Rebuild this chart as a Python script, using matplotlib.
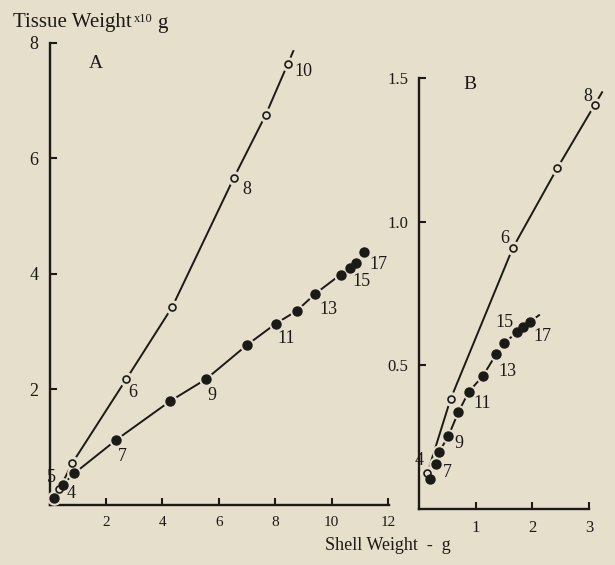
import matplotlib
matplotlib.use("Agg")
import matplotlib.pyplot as plt
import numpy as np

# ---- data ----
# panel A: shell weight (g) vs tissue weight (x10 g)
a_open_x = [0.35, 0.81, 2.72, 4.35, 6.54, 7.67, 8.45]
a_open_y = [0.28, 0.73, 2.18, 3.43, 5.67, 6.76, 7.64]
a_fill_x = [0.14, 0.46, 0.88, 2.37, 4.28, 5.55, 7.00, 8.02, 8.76, 9.43, 10.32, 10.67, 10.88, 11.17]
a_fill_y = [0.12, 0.35, 0.55, 1.13, 1.80, 2.18, 2.77, 3.14, 3.36, 3.66, 3.99, 4.11, 4.19, 4.38]

# panel B
b_open_x = [0.14, 0.55, 1.65, 2.44, 3.10]
b_open_y = [0.125, 0.383, 0.909, 1.188, 1.408]
b_fill_x = [0.19, 0.30, 0.35, 0.51, 0.69, 0.87, 1.12, 1.36, 1.50, 1.73, 1.84, 1.96]
b_fill_y = [0.105, 0.157, 0.199, 0.254, 0.338, 0.408, 0.463, 0.540, 0.578, 0.617, 0.634, 0.652]

# point labels: (series, index, text)
a_labels = [("open", 0, "4"), ("fill", 1, "5"), ("open", 2, "6"), ("fill", 3, "7"),
            ("open", 4, "8"), ("fill", 5, "9"), ("open", 6, "10"), ("fill", 7, "11"),
            ("fill", 9, "13"), ("fill", 11, "15"), ("fill", 13, "17")]
b_labels = [("open", 0, "4"), ("open", 2, "6"), ("open", 4, "8"), ("fill", 1, "7"),
            ("fill", 3, "9"), ("fill", 5, "11"), ("fill", 7, "13"), ("fill", 9, "15"),
            ("fill", 11, "17")]
# label offsets in pixels (x right, y up)
a_offsets = [(12, -5), (-11, 7), (6, -13), (6, -17), (13, -12), (6, -16),
             (16, -8), (11, -15), (13, -16), (11, -14), (14, -12)]
b_offsets = [(-8, 13), (-8, 10), (-7, 8), (11, -9), (11, -7), (14, -12),
             (11, -17), (-13, 9), (12, -15)]

a_xticks = [2, 4, 6, 8, 10, 12]
a_yticks = [2, 4, 6, 8]
b_xticks = [1, 2, 3]
b_yticks = [0.5, 1.0, 1.5]
b_yticklabels = ["0.5", "1.0", "1.5"]

BG = "#e5dfcb"
INK = "#1c1a17"
plt.rcParams["font.family"] = ["Liberation Serif", "DejaVu Serif"]

fig = plt.figure(figsize=(6.15, 5.65), dpi=100, facecolor=BG)
axA = fig.add_axes([0.0807, 0.1062, 0.5523, 0.8177])
axB = fig.add_axes([0.6821, 0.0991, 0.2756, 0.7620])


def extend(xs, ys, frac):
    # short stroke past the last point, following the last segment
    dx = xs[-1] - xs[-2]
    dy = ys[-1] - ys[-2]
    return [xs[-1], xs[-1] + dx * frac], [ys[-1], ys[-1] + dy * frac]


def draw_series(ax, xs, ys, filled, ext):
    ax.plot(xs, ys, color=INK, lw=1.4, zorder=2, clip_on=False)
    ex, ey = extend(xs, ys, ext)
    ax.plot(ex, ey, color=INK, lw=1.4, zorder=2, clip_on=False)
    # halo to break the line around each marker
    ax.plot(xs, ys, ls="none", marker="o", ms=9.5, mfc=BG, mec=BG, zorder=3, clip_on=False)
    if filled:
        ax.plot(xs, ys, ls="none", marker="o", ms=6.5, mfc=INK, mec=INK, zorder=4, clip_on=False)
    else:
        ax.plot(xs, ys, ls="none", marker="o", ms=5, mfc=BG, mec=INK, mew=1.2, zorder=4,
                clip_on=False)


def style_axis(ax, xlim, ylim):
    ax.set_facecolor("none")
    ax.set_xlim(*xlim)
    ax.set_ylim(*ylim)
    for s in ["top", "right"]:
        ax.spines[s].set_visible(False)
    for s in ["left", "bottom"]:
        ax.spines[s].set_linewidth(1.7)
        ax.spines[s].set_color(INK)
    ax.tick_params(direction="in", length=5, width=1.5, color=INK,
                   labelcolor=INK, labelsize=12, pad=8)


style_axis(axA, (0, 12.05), (0, 8))
draw_series(axA, a_open_x, a_open_y, False, 0.25)
draw_series(axA, a_fill_x, a_fill_y, True, 0.0)
axA.set_xticks(a_xticks)
axA.set_yticks(a_yticks)
axA.set_xticklabels([str(t) for t in a_xticks], fontsize=11)
axA.set_yticklabels([str(t) for t in a_yticks], fontsize=13)
axA.text(0.135, 0.955, "A", transform=axA.transAxes, fontsize=14, color=INK,
         ha="center", va="center")

style_axis(axB, (0, 3.0), (0, 1.5))
draw_series(axB, b_open_x, b_open_y, False, 0.2)
draw_series(axB, b_fill_x, b_fill_y, True, 1.3)
axB.set_xticks(b_xticks)
axB.set_yticks(b_yticks)
axB.set_xticklabels([str(t) for t in b_xticks], fontsize=12)
axB.set_yticklabels(b_yticklabels, fontsize=12)
axB.text(0.3, 0.985, "B", transform=axB.transAxes, fontsize=14, color=INK,
         ha="center", va="center")


def put_labels(ax, labels, offsets, ox, oy, fx, fy):
    for (series, i, txt), (dx, dy) in zip(labels, offsets):
        x, y = (ox[i], oy[i]) if series == "open" else (fx[i], fy[i])
        ax.annotate(txt, (x, y), xytext=(dx, dy), textcoords="offset pixels",
                    ha="center", va="center", fontsize=13, color=INK,
                    annotation_clip=False, zorder=5)


put_labels(axA, a_labels, a_offsets, a_open_x, a_open_y, a_fill_x, a_fill_y)
put_labels(axB, b_labels, b_offsets, b_open_x, b_open_y, b_fill_x, b_fill_y)

fig.text(0.021, 0.961, "Tissue Weight", fontsize=15, color=INK, ha="left", va="center")
fig.text(0.218, 0.966, "x10", fontsize=9, color=INK, ha="left", va="center")
fig.text(0.256, 0.959, "g", fontsize=15, color=INK, ha="left", va="center")
fig.text(0.631, 0.034, "Shell Weight  -  g", fontsize=13, color=INK,
         ha="center", va="center")

fig.savefig("out.png", dpi=100, facecolor=BG)
